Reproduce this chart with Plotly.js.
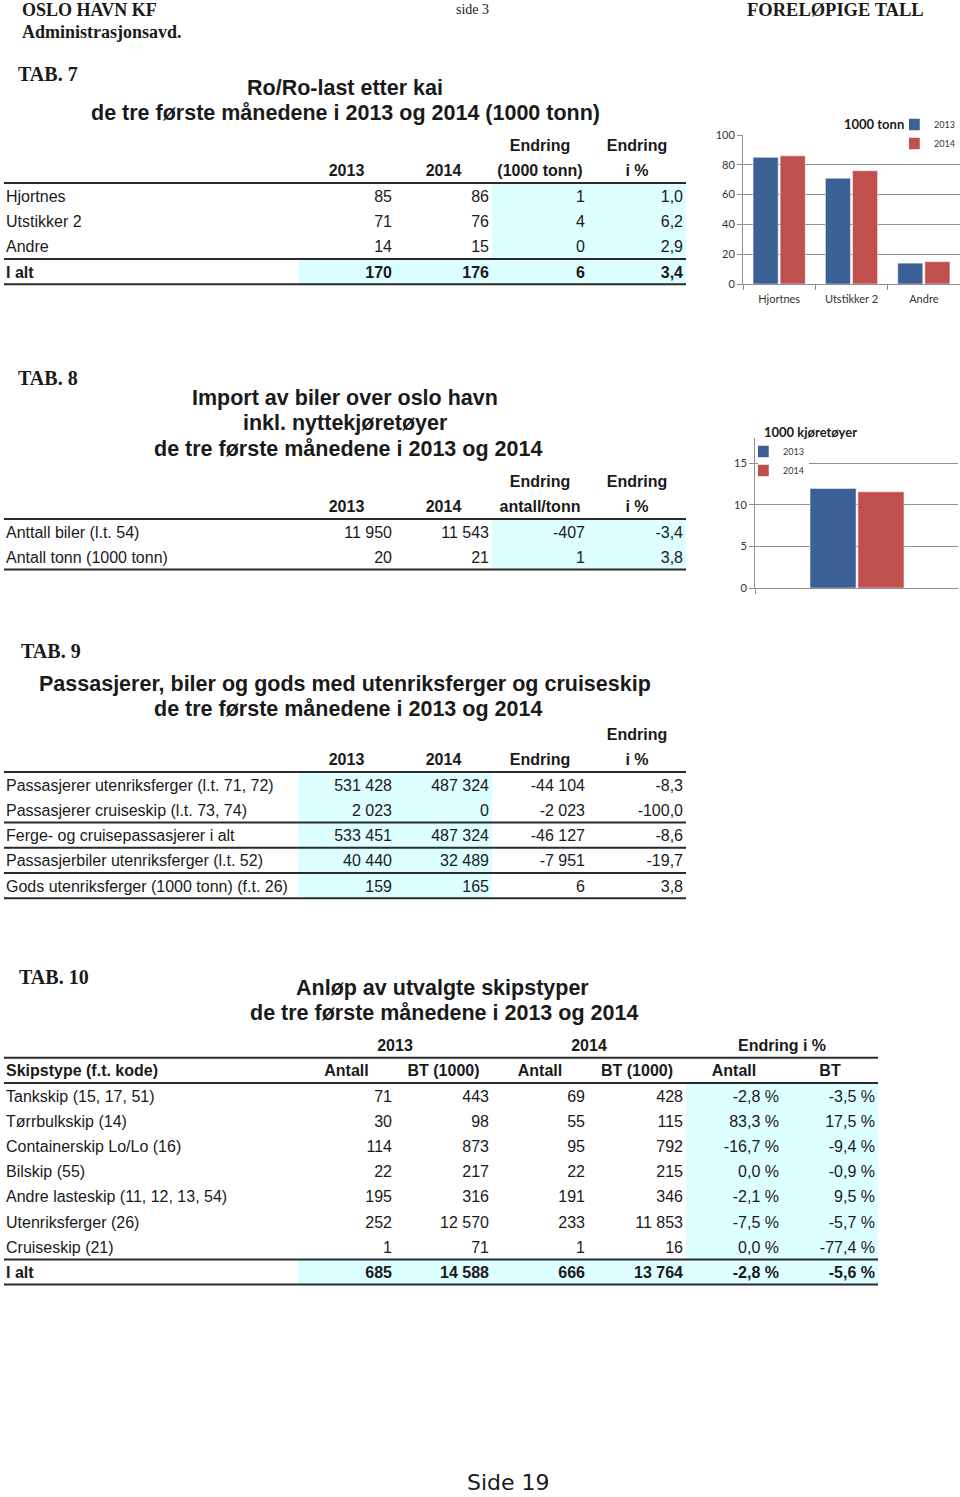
<!DOCTYPE html>
<html><head><meta charset="utf-8">
<script src="https://cdn.plot.ly/plotly-3.0.1.min.js"></script>
<style>html,body{margin:0;padding:0;background:#fff;} #chart{width:960px;height:1497px;}</style>
</head><body><div id="chart"></div>
<script>
// ---------------- DATA ----------------
// TAB. 7 Ro/Ro-last etter kai (1000 tonn)
const t7Kai = ['Hjortnes', 'Utstikker 2', 'Andre', 'I alt'];
const t7Y2013 = [85, 71, 14, 170];
const t7Y2014 = [86, 76, 15, 176];
const t7Endring = [1, 4, 0, 6];
const t7Pct = [1.0, 6.2, 2.9, 3.4];
const t7Head1 = ['', '', '', 'Endring', 'Endring'];
const t7Head2 = ['', '2013', '2014', '(1000 tonn)', 'i %'];

// TAB. 8 Import av biler
const t8Rows = ['Anttall biler (l.t. 54)', 'Antall tonn (1000 tonn)'];
const t8Y2013 = [11950, 20];
const t8Y2014 = [11543, 21];
const t8Endring = [-407, 1];
const t8Pct = [-3.4, 3.8];
const t8Head1 = ['', '', '', 'Endring', 'Endring'];
const t8Head2 = ['', '2013', '2014', 'antall/tonn', 'i %'];

// TAB. 9 Passasjerer, biler og gods
const t9Rows = ['Passasjerer utenriksferger (l.t. 71, 72)', 'Passasjerer cruiseskip (l.t. 73, 74)',
  'Ferge- og cruisepassasjerer i alt', 'Passasjerbiler utenriksferger (l.t. 52)',
  'Gods utenriksferger (1000 tonn) (f.t. 26)'];
const t9Y2013 = [531428, 2023, 533451, 40440, 159];
const t9Y2014 = [487324, 0, 487324, 32489, 165];
const t9Endring = [-44104, -2023, -46127, -7951, 6];
const t9Pct = [-8.3, -100.0, -8.6, -19.7, 3.8];
const t9Head1 = ['', '', '', '', 'Endring'];
const t9Head2 = ['', '2013', '2014', 'Endring', 'i %'];

// TAB. 10 Anløp av utvalgte skipstyper
const t10Types = ['Tankskip (15, 17, 51)', 'Tørrbulkskip (14)', 'Containerskip Lo/Lo (16)', 'Bilskip (55)',
  'Andre lasteskip (11, 12, 13, 54)', 'Utenriksferger (26)', 'Cruiseskip (21)', 'I alt'];
const t10Antall2013 = [71, 30, 114, 22, 195, 252, 1, 685];
const t10BT2013 = [443, 98, 873, 217, 316, 12570, 71, 14588];
const t10Antall2014 = [69, 55, 95, 22, 191, 233, 1, 666];
const t10BT2014 = [428, 115, 792, 215, 346, 11853, 16, 13764];
const t10PctAntall = [-2.8, 83.3, -16.7, 0.0, -2.1, -7.5, 0.0, -2.8];
const t10PctBT = [-3.5, 17.5, -9.4, -0.9, 9.5, -5.7, -77.4, -5.6];
const t10Group = ['2013', '2014', 'Endring i %'];
const t10Head2 = ['Skipstype (f.t. kode)', 'Antall', 'BT (1000)', 'Antall', 'BT (1000)', 'Antall', 'BT'];

// Charts
const chartYears = ['2013', '2014'];
const chart1Cats = t7Kai.slice(0, 3);
const chart1V2013 = t7Y2013.slice(0, 3);
const chart1V2014 = t7Y2014.slice(0, 3);
const chart2Cats = ['Biler'];
const chart2V2013 = [t8Y2013[0] / 1000];
const chart2V2014 = [t8Y2014[0] / 1000];

// ---------------- STYLE ----------------
const W = 960, H = 1497;
const FONT = '"Liberation Sans", Arial, sans-serif';
const SERIF = '"Liberation Serif", "Times New Roman", serif';
const CAL = 'Lato, "Open Sans", sans-serif';
const INK = '#1a1a1a';
const CYAN = '#DDFFFF';
const BLUE = '#3A6096';
const RED = '#C0504D';
const GRID = '#8f8f8f';
const TXT_DY = 2;
const TITLE_SIZE = 21.5;

function fmtInt(n) {
  const s = Math.abs(n).toString().replace(/\B(?=(\d{3})+(?!\d))/g, ' ');
  return (n < 0 ? '-' : '') + s;
}
function fmtDec(n) { return n.toFixed(1).replace('.', ','); }
function fmtPct(n) { return fmtDec(n) + ' %'; }

const specs = [
  { bounds: [4, 298, 395, 492, 588, 686], top: 183, rowH: 25.3,
    head1: t7Head1, head2: t7Head2,
    cols: [t7Kai, t7Y2013.map(fmtInt), t7Y2014.map(fmtInt), t7Endring.map(fmtInt), t7Pct.map(fmtDec)],
    bold: [3], shade: [[0, 2, 3, 4], [3, 3, 1, 4]], rules: [0, 3, 4] },
  { bounds: [4, 298, 395, 492, 588, 686], top: 519, rowH: 25.3,
    head1: t8Head1, head2: t8Head2,
    cols: [t8Rows, t8Y2013.map(fmtInt), t8Y2014.map(fmtInt), t8Endring.map(fmtInt), t8Pct.map(fmtDec)],
    bold: [], shade: [[0, 1, 3, 4]], rules: [0, 2] },
  { bounds: [4, 298, 395, 492, 588, 686], top: 772, rowH: 25.25,
    head1: t9Head1, head2: t9Head2,
    cols: [t9Rows, t9Y2013.map(fmtInt), t9Y2014.map(fmtInt), t9Endring.map(fmtInt), t9Pct.map(fmtDec)],
    bold: [], shade: [[0, 4, 1, 2]], rules: [0, 2, 3, 4, 5] },
  { bounds: [4, 298, 395, 492, 588, 686, 782, 878], top: 1083, rowH: 25.2,
    head1: null, group: { labels: t10Group, spans: [[1, 2], [3, 4], [5, 6]] }, head2: t10Head2,
    cols: [t10Types, t10Antall2013.map(fmtInt), t10BT2013.map(fmtInt), t10Antall2014.map(fmtInt),
           t10BT2014.map(fmtInt), t10PctAntall.map(fmtPct), t10PctBT.map(fmtPct)],
    bold: [7], shade: [[0, 6, 5, 6], [7, 7, 1, 6]], rules: [-1, 0, 7, 8] }
];

const traces = [];
const shapes = [];

function textTrace(xs, ys, texts, pos) {
  return { type: 'scatter', mode: 'text', xaxis: 'x3', yaxis: 'y3', x: xs, y: ys, text: texts,
    textposition: pos, textfont: { family: FONT, size: 16, color: INK },
    hoverinfo: 'skip', showlegend: false, cliponaxis: false };
}

function headerRow(s, arr, yc) {
  const xs = [], ys = [], tx = [];
  arr.forEach((v, j) => {
    if (!v) return;
    if (j === 0) {
      traces.push(textTrace([s.bounds[0] + 2], [yc + TXT_DY], ['<b>' + v + '</b>'], 'middle right'));
    } else {
      xs.push((s.bounds[j] + s.bounds[j + 1]) / 2); ys.push(yc + TXT_DY); tx.push('<b>' + v + '</b>');
    }
  });
  if (xs.length) traces.push(textTrace(xs, ys, tx, 'middle center'));
}

specs.forEach(s => {
  const last = s.bounds[s.bounds.length - 1];
  s.shade.forEach(([r0, r1, c0, c1]) => {
    shapes.push({ type: 'rect', xref: 'x3', yref: 'y3', layer: 'below',
      x0: s.bounds[c0], x1: s.bounds[c1 + 1], y0: s.top + r0 * s.rowH, y1: s.top + (r1 + 1) * s.rowH,
      fillcolor: CYAN, line: { width: 0 } });
  });
  s.rules.forEach(k => {
    const y = s.top + k * s.rowH;
    shapes.push({ type: 'line', xref: 'x3', yref: 'y3', x0: s.bounds[0], x1: last, y0: y, y1: y,
      line: { color: '#2a2a2a', width: 2 } });
  });
  s.cols.forEach((col, j) => {
    const ax = j === 0 ? s.bounds[0] + 2 : s.bounds[j + 1] - 3;
    traces.push(textTrace(col.map(() => ax), col.map((_, i) => s.top + (i + 0.5) * s.rowH + TXT_DY),
      col.map((v, i) => s.bold.includes(i) ? '<b>' + v + '</b>' : v), j === 0 ? 'middle right' : 'middle left'));
  });
  headerRow(s, s.head2, s.top - 0.5 * s.rowH);
  if (s.head1) headerRow(s, s.head1, s.top - 1.5 * s.rowH);
  if (s.group) {
    traces.push(textTrace(s.group.spans.map(([a, b]) => (s.bounds[a] + s.bounds[b + 1]) / 2),
      s.group.spans.map(() => s.top - 1.5 * s.rowH + TXT_DY),
      s.group.labels.map(v => '<b>' + v + '</b>'), 'middle center'));
  }
});

// Bar charts
const barCols = [BLUE, RED];
[chart1V2013, chart1V2014].forEach((vals, k) => {
  traces.push({ type: 'bar', x: chart1Cats, y: vals, name: chartYears[k], xaxis: 'x', yaxis: 'y',
    legend: 'legend', width: 0.347, offset: k === 0 ? -0.361 : 0.014,
    marker: { color: barCols[k], line: { color: 'rgba(255,255,255,0.5)', width: 1 } }, hoverinfo: 'x+y+name' });
});
[chart2V2013, chart2V2014].forEach((vals, k) => {
  traces.push({ type: 'bar', x: chart2Cats, y: vals, name: chartYears[k], xaxis: 'x2', yaxis: 'y2',
    legend: 'legend2', width: 0.227, offset: k === 0 ? -0.229 : 0.007,
    marker: { color: barCols[k], line: { color: 'rgba(255,255,255,0.5)', width: 1 } }, hoverinfo: 'y+name' });
});

function ann(text, x, y, opts) {
  return Object.assign({ text: text, x: x, y: y, xref: 'x3', yref: 'y3', showarrow: false,
    xanchor: 'center', yanchor: 'middle', font: { family: FONT, size: TITLE_SIZE, color: INK } }, opts || {});
}
const serifB = (size) => ({ family: SERIF, size: size, color: INK });
const annotations = [
  ann('<b>OSLO HAVN KF</b>', 20, 10, { xanchor: 'left', font: serifB(18) }),
  ann('<b>Administrasjonsavd.</b>', 20, 32, { xanchor: 'left', font: serifB(18) }),
  ann('side 3', 472, 9, { font: serifB(14) }),
  ann('<b>FORELØPIGE TALL</b>', 926, 10, { xanchor: 'right', font: serifB(18.5) }),
  ann('<b>TAB. 7</b>', 16, 74, { xanchor: 'left', font: serifB(20) }),
  ann('<b>Ro/Ro-last etter kai</b>', 345, 88),
  ann('<b>de tre første månedene i 2013 og 2014 (1000 tonn)</b>', 345, 113),
  ann('<b>TAB. 8</b>', 16, 378, { xanchor: 'left', font: serifB(20) }),
  ann('<b>Import av biler over oslo havn</b>', 345, 398),
  ann('<b>inkl. nyttekjøretøyer</b>', 345, 423),
  ann('<b>de tre første månedene i 2013 og 2014</b>', 348, 449),
  ann('<b>TAB. 9</b>', 19, 651, { xanchor: 'left', font: serifB(20) }),
  ann('<b>Passasjerer, biler og gods med utenriksferger og cruiseskip</b>', 345, 684),
  ann('<b>de tre første månedene i 2013 og 2014</b>', 348, 709),
  ann('<b>TAB. 10</b>', 17, 977, { xanchor: 'left', font: serifB(20) }),
  ann('<b>Anløp av utvalgte skipstyper</b>', 442, 988),
  ann('<b>de tre første månedene i 2013 og 2014</b>', 444, 1013),
  ann('Side 19', 508, 1482, { font: { family: '"DejaVu Sans", Verdana, sans-serif', size: 22, color: INK } }),
  ann('<b>1000 tonn</b>', 874, 124, { font: { family: CAL, size: 13, color: INK } }),
  ann('<b>1000 kjøretøyer</b>', 762, 432, { xanchor: 'left', font: { family: CAL, size: 13, color: INK } })
];

const py = (p) => 1 - p / H;
const tickF = { family: CAL, size: 11, color: '#333' };
const legendBase = { xanchor: 'left', yanchor: 'top', bgcolor: '#ffffff', borderwidth: 0,
  font: { family: CAL, size: 9, color: '#333' }, itemwidth: 30, indentation: -15, tracegroupgap: 0,
  traceorder: 'normal', itemclick: false, itemdoubleclick: false };

const layout = {
  width: W, height: H, autosize: false, margin: { l: 0, r: 0, t: 0, b: 0, pad: 0 },
  paper_bgcolor: '#ffffff', plot_bgcolor: 'rgba(0,0,0,0)', barmode: 'overlay',
  showlegend: true,
  xaxis: { domain: [743 / W, 1], anchor: 'y', type: 'category', range: [-0.5, 2.5],
    showline: true, linecolor: GRID, ticks: 'outside', tickson: 'boundaries', ticklen: 5, tickcolor: GRID,
    tickfont: tickF, ticklabelstandoff: 5, fixedrange: true },
  yaxis: { domain: [py(284), py(135)], anchor: 'x', range: [0, 100], dtick: 20, showgrid: true, gridcolor: GRID,
    showline: true, linecolor: GRID, ticks: 'outside', ticklen: 5, tickcolor: GRID, zeroline: false,
    tickfont: tickF, fixedrange: true },
  xaxis2: { domain: [755 / W, 958 / W], anchor: 'y2', type: 'category', range: [-0.5, 0.5],
    showline: true, linecolor: GRID, ticks: 'outside', tickson: 'boundaries', ticklen: 5, tickcolor: GRID,
    showticklabels: false, fixedrange: true },
  yaxis2: { domain: [py(588), py(438)], anchor: 'x2', range: [0, 18], dtick: 5, showgrid: true, gridcolor: GRID,
    showline: true, linecolor: GRID, ticks: 'outside', ticklen: 5, tickcolor: GRID, zeroline: false,
    tickfont: tickF, fixedrange: true },
  xaxis3: { domain: [0, 1], anchor: 'y3', range: [0, W], visible: false, fixedrange: true },
  yaxis3: { domain: [0, 1], anchor: 'x3', range: [H, 0], visible: false, fixedrange: true },
  legend: Object.assign({}, legendBase, { x: 909 / W, y: py(110) }),
  legend2: Object.assign({}, legendBase, { x: 758 / W, y: py(437) }),
  shapes: shapes,
  annotations: annotations
};

Plotly.newPlot('chart', traces, layout, { displayModeBar: false, staticPlot: false, responsive: false });
</script>
</body></html>
